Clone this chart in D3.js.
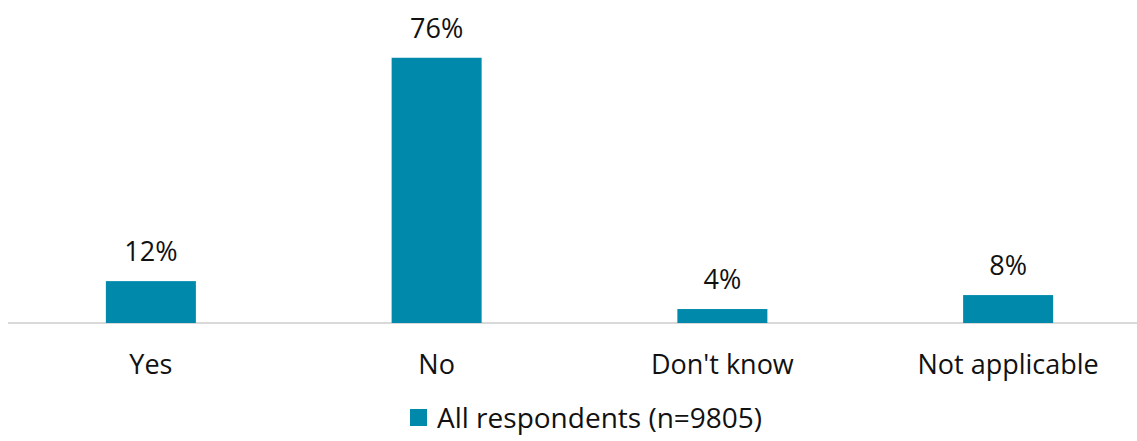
<!DOCTYPE html>
<html>
<head>
<meta charset="utf-8">
<script src="https://cdn.jsdelivr.net/npm/d3@7"></script>
<style>
  body { margin: 0; background: #fff; }
  svg { font-family: "Open Sans", "Noto Sans", sans-serif; }
</style>
</head>
<body>
<svg width="1137" height="441"></svg>
<script>
const categories = ["Yes", "No", "Don't know", "Not applicable"];
const values = [12, 76, 4, 8];
const seriesName = "All respondents (n=9805)";

let svg = d3.select("svg");
let barColor = "#0089ab";
let textColor = "#111";

let x = d3.scaleBand().domain(categories).range([8, 1151]).padding(0);
let y = d3.scaleLinear().domain([0, 100]).range([323, -26]);
let barW = x.bandwidth() * 0.315;

// baseline
svg.append("line")
  .attr("x1", 8).attr("x2", 1137)
  .attr("y1", y(0)).attr("y2", y(0))
  .attr("stroke", "#d9d9d9").attr("stroke-width", 2);

svg.selectAll("rect.bar")
  .data(values)
  .enter().append("rect")
  .attr("class", "bar")
  .attr("x", (d, i) => x(categories[i]) + (x.bandwidth() - barW) / 2)
  .attr("y", d => y(d))
  .attr("width", barW)
  .attr("height", d => y(0) - y(d))
  .attr("fill", barColor);

// value labels
svg.selectAll("text.val")
  .data(values)
  .enter().append("text")
  .attr("class", "val")
  .attr("x", (d, i) => x(categories[i]) + x.bandwidth() / 2)
  .attr("y", d => y(d) - 20)
  .attr("text-anchor", "middle")
  .attr("font-size", "27px")
  .attr("fill", textColor)
  .text(d => d + "%");

// category labels
svg.selectAll("text.cat")
  .data(categories)
  .enter().append("text")
  .attr("class", "cat")
  .attr("x", d => x(d) + x.bandwidth() / 2)
  .attr("y", 374)
  .attr("text-anchor", "middle")
  .attr("font-size", "27px")
  .attr("fill", textColor)
  .text(d => d);

// legend
let legend = svg.append("g").attr("transform", "translate(410, 409)");
legend.append("rect")
  .attr("width", 17).attr("height", 17)
  .attr("fill", barColor);
legend.append("text")
  .attr("x", 27).attr("y", 19)
  .attr("font-size", "28px")
  .attr("fill", textColor)
  .text(seriesName);
</script>
</body>
</html>
